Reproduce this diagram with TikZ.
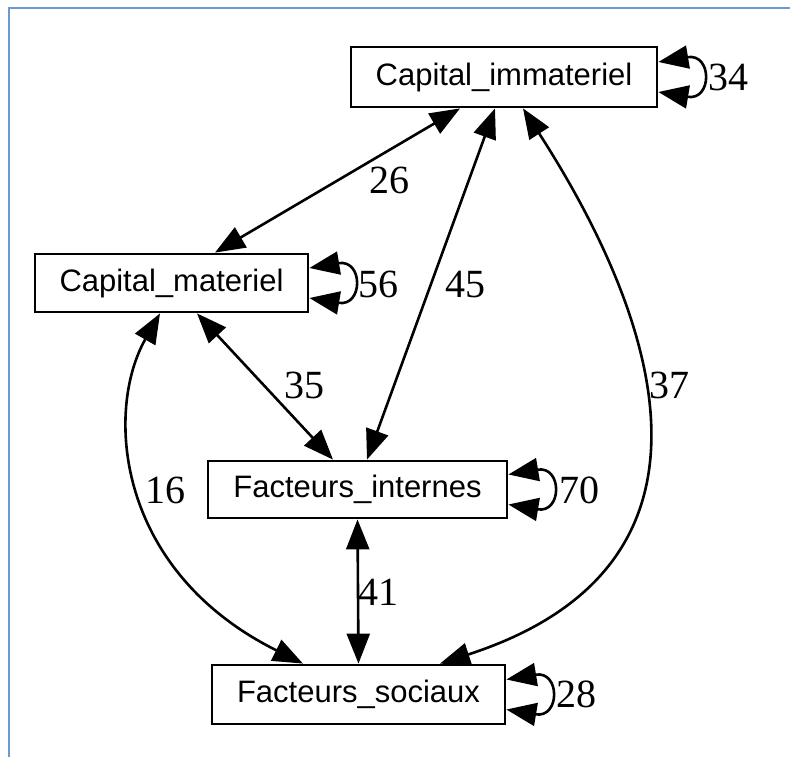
\documentclass[tikz,border=0pt]{standalone}
\usepackage{fontspec}
\setmainfont{Liberation Serif}
\newfontfamily\nodefont{Liberation Sans}
\usetikzlibrary{arrows.meta,calc}
\definecolor{framecol}{RGB}{110,152,212}
\begin{document}
\begin{tikzpicture}[x=1pt,y=-1pt,
  var/.style={draw, line width=2.8pt, inner sep=0pt, fill=white,
    font=\nodefont\fontsize{31}{37}\selectfont},
  link/.style={line width=2.6pt,
    {Triangle[length=30pt,width=23pt]}-{Triangle[length=30pt,width=23pt]}},
  wt/.style={font=\fontsize{40}{47}\selectfont, inner sep=0pt},
]
\useasboundingbox (0,0) rectangle (790,757);
\fill[white] (0,0) rectangle (790,757);

% window frame
\coordinate (fb) at (9,757);
\coordinate (fc) at (9,8);
\coordinate (fr) at (790,8);
\draw[framecol, line width=2pt] (fb) -- (fc) -- (fr);

% variables
\node[var, minimum width=306pt, minimum height=60pt] (ci) at (504,77) {Capital\_immateriel};
\node[var, minimum width=273pt, minimum height=58pt] (cm) at (171.5,283) {Capital\_materiel};
\node[var, minimum width=299pt, minimum height=57pt] (fi) at (357.5,489.5) {Facteurs\_internes};
\node[var, minimum width=293pt, minimum height=59pt] (fs) at (358.5,694.5) {Facteurs\_sociaux};

% links between variables
\draw[link] ([xshift=43.5pt]cm.north) -- ([xshift=-44pt]ci.south);
\draw[link] ([xshift=9.5pt]fi.north) -- ([xshift=-9pt]ci.south);
\draw[link] ([xshift=25.5pt]cm.south) -- ([xshift=-24.5pt]fi.north);
\draw[link] (fi.south) -- (fs.north);
\draw[link] ([xshift=-11.5pt]cm.south) .. controls (105,410) and (115,570) .. ([xshift=-55.5pt]fs.north);
\draw[link] ([xshift=19pt]ci.south) .. controls (640,290) and (760,560) .. ([xshift=81.5pt]fs.north);

% self loops
\foreach \n in {ci,cm,fi,fs}{
  \draw[link] ($(\n.east)+(0,-15)$) .. controls +(54,-9) and +(54,9) .. ($(\n.east)+(0,15)$);
}

% weights
\node[wt] (w26) at (389,180) {26};
\node[wt] (w45) at (465,285) {45};
\node[wt] (w37) at (669,385) {37};
\node[wt] (w35) at (304,385) {35};
\node[wt] (w16) at (165,490) {16};
\node[wt] (w41) at (378,592) {41};
\node[wt] (w34) at (728,77) {34};
\node[wt] (w56) at (378,284) {56};
\node[wt] (w70) at (579,490) {70};
\node[wt] (w28) at (576,694) {28};
\end{tikzpicture}
\end{document}
